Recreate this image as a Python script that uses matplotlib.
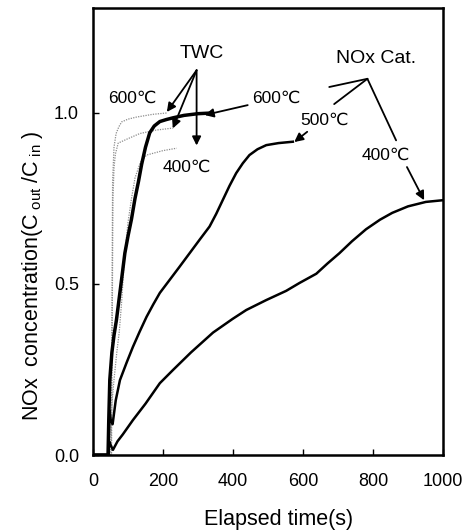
import matplotlib
matplotlib.use("Agg")
import matplotlib.pyplot as plt

plt.rcParams['font.family'] = ['Liberation Sans', 'DejaVu Sans']

# NOx Cat. 600C (bold)
t_nox600 = [0, 43, 45, 48, 54, 60, 67, 80, 91, 100, 110, 120, 130, 139, 150, 162, 175, 191, 210, 229, 260, 300, 340]
c_nox600 = [0, 0, 0.1, 0.22, 0.3, 0.35, 0.395, 0.5, 0.59, 0.64, 0.69, 0.75, 0.80, 0.85, 0.90, 0.942, 0.962, 0.975, 0.981, 0.986, 0.993, 0.998, 1.0]

# NOx Cat. 500C
t_nox500 = [0, 44, 47, 51, 56, 65, 77, 96, 114, 133, 153, 172, 191, 219, 247, 276, 305, 333, 352, 371, 390, 409, 428, 447, 470, 495, 530, 571]
c_nox500 = [0, 0, 0.13, 0.1, 0.09, 0.16, 0.219, 0.27, 0.316, 0.36, 0.404, 0.44, 0.474, 0.512, 0.55, 0.59, 0.63, 0.668, 0.705, 0.746, 0.787, 0.824, 0.853, 0.877, 0.894, 0.906, 0.912, 0.916]

# NOx Cat. 400C
t_nox400 = [0, 44, 46, 50, 57, 70, 85, 114, 150, 191, 229, 280, 343, 399, 438, 495, 552, 590, 638, 670, 704, 740, 780, 820, 855, 900, 951, 1000]
c_nox400 = [0, 0, 0.04, 0.03, 0.015, 0.04, 0.06, 0.102, 0.15, 0.21, 0.249, 0.30, 0.358, 0.398, 0.424, 0.453, 0.48, 0.503, 0.53, 0.56, 0.59, 0.625, 0.66, 0.688, 0.708, 0.727, 0.74, 0.745]

# TWC 600C (dotted)
t_twc600 = [0, 52, 54, 56, 60, 66, 74, 82, 100, 124, 170, 210]
c_twc600 = [0, 0, 0.4, 0.8, 0.9, 0.94, 0.96, 0.974, 0.982, 0.988, 0.996, 1.0]

# TWC 500C (dotted)
t_twc500 = [0, 53, 55, 57, 60, 64, 72, 100, 134, 180, 229]
c_twc500 = [0, 0, 0.4, 0.75, 0.84, 0.88, 0.912, 0.925, 0.94, 0.95, 0.956]

# TWC 400C (dotted)
t_twc400 = [0, 50, 54, 60, 68, 75, 82, 90, 100, 110, 120, 135, 153, 200, 239]
c_twc400 = [0, 0, 0.15, 0.22, 0.30, 0.36, 0.45, 0.58, 0.68, 0.75, 0.81, 0.855, 0.877, 0.89, 0.897]

xticks = [0, 200, 400, 600, 800, 1000]
yticks = [0.0, 0.5, 1.0]
ytick_labels = ['0.0', '0.5', '1.0']

fig = plt.figure(figsize=(4.69, 5.30), dpi=100)
ax = fig.add_axes([93/469, 75/530, 350/469, 447/530])

for t, c in [(t_twc600, c_twc600), (t_twc500, c_twc500), (t_twc400, c_twc400)]:
    ax.plot(t, c, color='#8c8c8c', lw=0.9, ls=(0, (1, 1)))
ax.plot(t_nox400, c_nox400, color='black', lw=1.8)
ax.plot(t_nox500, c_nox500, color='black', lw=1.8)
ax.plot(t_nox600, c_nox600, color='black', lw=2.5)

ax.set_xlim(0, 1000)
ax.set_ylim(0, 1.307)
ax.set_xticks(xticks)
ax.set_yticks(yticks)
ax.set_yticklabels(ytick_labels)
ax.tick_params(direction='in', length=4, width=1, labelsize=13, pad=10)
ax.tick_params(axis='x', pad=13)
for s in ax.spines.values():
    s.set_linewidth(1.8)

ax.set_xlabel('Elapsed time(s)', fontsize=15.5, va='center')
ax.xaxis.set_label_coords(0.529, -0.145)
ax.set_ylabel(r'NOx  concentration(C$_{\mathregular{\ out\ }}$/C$_{\mathregular{\ in\ }}$)', fontsize=15.5, va='center')
ax.yaxis.set_label_coords(-0.172, 0.40)

afs = 12.5
arr = dict(arrowstyle='-|>', color='black', lw=1.3, mutation_scale=13, shrinkA=0, shrinkB=0)
line = dict(arrowstyle='-', color='black', lw=1.3, shrinkA=0, shrinkB=0)

# TWC annotations
ax.text(311, 1.175, 'TWC', fontsize=14, ha='center', va='center')
for xy in [(211, 1.003), (228, 0.955), (296, 0.905)]:
    ax.annotate('', xy=xy, xytext=(296, 1.125), arrowprops=arr)
ax.text(111, 1.044, '600\u2103', fontsize=afs, ha='center', va='center')
ax.text(268, 0.842, '400\u2103', fontsize=afs, ha='center', va='center')

# NOx Cat annotations
ax.text(809, 1.16, 'NOx Cat.', fontsize=14, ha='center', va='center')
ax.text(524, 1.044, '600\u2103', fontsize=afs, ha='center', va='center')
ax.annotate('', xy=(319, 0.994), xytext=(442, 1.023), arrowprops=arr)
ax.text(661, 0.98, '500\u2103', fontsize=afs, ha='center', va='center')
ax.annotate('', xy=(575, 0.915), xytext=(612, 0.945), arrowprops=arr)
ax.text(837, 0.877, '400\u2103', fontsize=afs, ha='center', va='center')
ax.annotate('', xy=(946, 0.745), xytext=(897, 0.842), arrowprops=arr)
for xy in [(675, 1.076), (689, 1.026), (866, 0.92)]:
    ax.annotate('', xy=xy, xytext=(784, 1.10), arrowprops=line)

fig.savefig('out.png', dpi=100)
